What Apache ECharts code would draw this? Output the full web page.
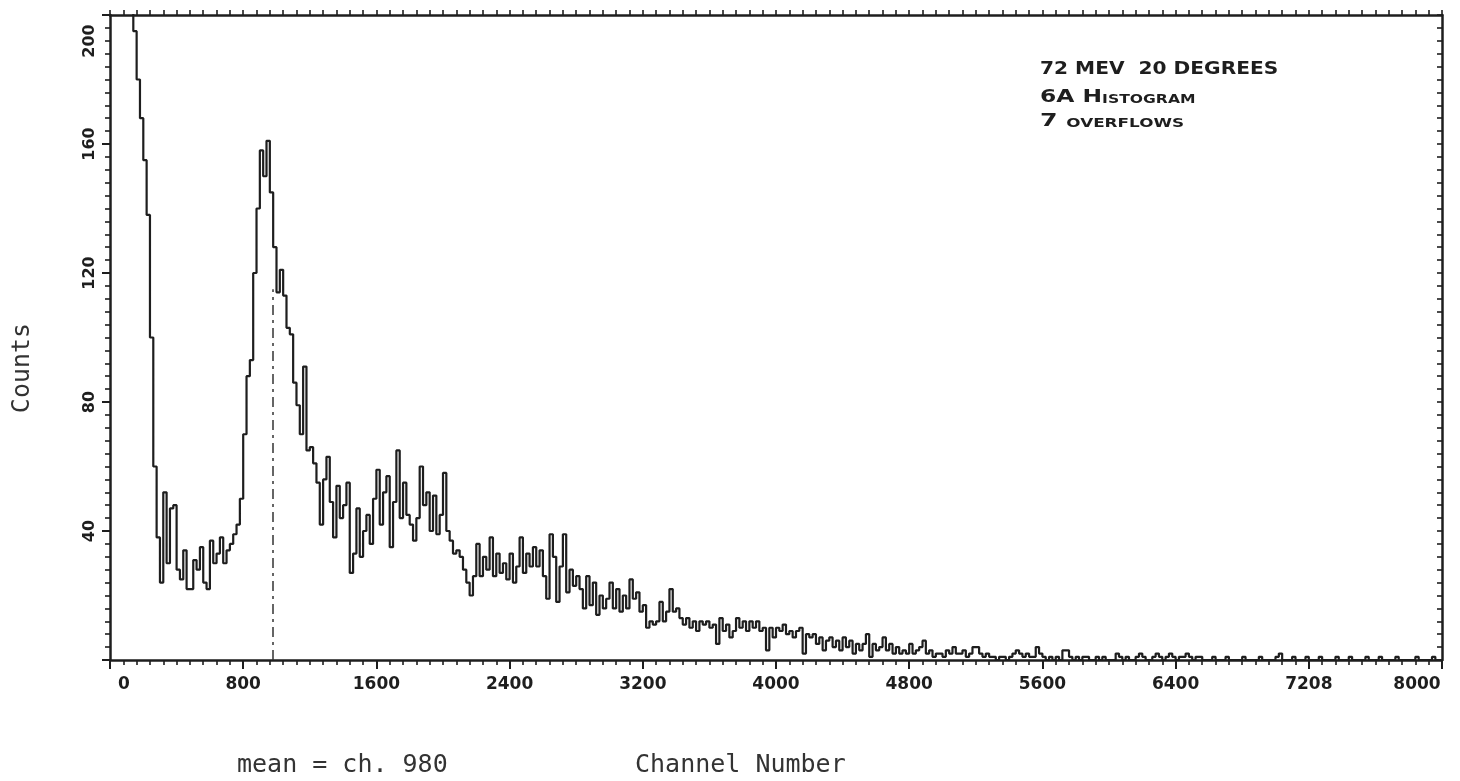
<!DOCTYPE html>
<html>
<head>
<meta charset="utf-8">
<script src="https://cdn.jsdelivr.net/npm/echarts@6/dist/echarts.min.js"></script>
<style>
  html, body { margin: 0; padding: 0; background: #ffffff; }
  #chart { width: 1460px; height: 781px; }
</style>
</head>
<body>
<div id="chart"></div>
<script>
// Histogram: 20-channel bins, counts
const binWidth = 20;
const counts0to1000 = [205,205,205,205,205,205,205,195,180,168, 155,138,100,60,38,24,52,30,47,48, 28,25,34,22,22,31,28,35,24,22, 37,30,33,38,30,34,36,39,42,50, 70,88,93,120,140,158,150,161,145,128];
const counts1000to2000 = [114,121,113,103,101,86,79,70,91,65, 66,61,55,42,56,63,49,38,54,44, 48,55,27,33,47,32,40,45,36,50, 59,42,52,57,35,49,65,44,55,45, 42,37,44,60,48,52,40,51,39,45];
const counts2000to3000 = [58,40,37,33,34,32,28,24,20,26, 36,26,32,28,38,26,33,27,30,25, 33,24,29,38,27,33,29,35,29,34, 26,19,39,32,18,29,39,21,28,23, 26,22,16,26,17,24,14,20,16,19];
const counts3000to4000 = [24,16,22,15,20,16,25,19,21,15, 17,10,12,11,12,18,12,15,22,15, 16,13,11,13,10,12,9,12,11,12, 10,11,5,13,9,11,7,9,13,10, 12,9,12,10,12,9,10,3,10,7];
const counts4000to5000 = [10,9,11,8,9,7,9,10,2,8, 7,8,5,7,3,6,7,4,6,3, 7,4,6,2,5,3,5,8,1,5, 3,4,7,3,5,2,4,2,3,2, 5,2,3,4,6,2,3,1,2,2];
const counts5000to6000 = [1,3,2,4,2,2,3,1,2,4, 4,2,1,2,1,1,0,1,1,0, 1,2,3,2,1,2,1,1,4,2, 1,0,1,0,1,0,3,3,1,0, 1,0,1,1,0,0,1,0,1,0];
const counts6000to7000 = [0,0,2,1,0,1,0,0,1,2, 1,0,0,1,2,1,0,1,2,1, 0,1,1,2,1,0,1,1,0,0, 0,1,0,0,0,1,0,0,0,0, 1,0,0,0,0,1,0,0,0,0];
const counts7000to8000 = [1,2,0,0,0,1,0,0,0,1, 0,0,0,1,0,0,0,0,1,0, 0,0,1,0,0,0,0,1,0,0, 0,1,0,0,0,0,1,0,0,0, 0,0,1,0,0,0,0,1,0,0];

const meanChannel = 980;
const meanLineTop = 115;

const xTickLabels = ['0','800','1600','2400','3200','4000','4800','5600','6400','7208','8000'];
const yTickLabels = ['','40','80','120','160','200'];

const annotationLines = ['72 MEV  20 DEGREES', '6A H', 'ISTOGRAM', '7 ', 'OVERFLOWS'];

const allCounts = [].concat(counts0to1000, counts1000to2000, counts2000to3000, counts3000to4000,
  counts4000to5000, counts5000to6000, counts6000to7000, counts7000to8000);
const seriesData = allCounts.map((c, i) => [i * binWidth, c]);
seriesData.push([allCounts.length * binWidth, allCounts[allCounts.length - 1]]);

const ink = '#1e1e1e';
const labelFont = { fontFamily: 'DejaVu Sans', fontWeight: 'bold', color: ink };

const chart = echarts.init(document.getElementById('chart'), null, { renderer: 'canvas' });
chart.setOption({
  animation: false,
  backgroundColor: '#ffffff',
  grid: { left: 110, right: 18, top: 15, bottom: 121, containLabel: false },
  xAxis: [
    {
      type: 'value', position: 'bottom', min: 0, max: 8000, interval: 800,
      axisLine: { show: true, onZero: false, lineStyle: { color: ink, width: 2.5 } },
      axisTick: { show: true, length: 9, lineStyle: { color: ink, width: 2 } },
      minorTick: { show: true, splitNumber: 10, length: 5, lineStyle: { color: ink, width: 1.6 } },
      splitLine: { show: false },
      axisLabel: Object.assign({
        fontSize: 17, margin: 16,
        formatter: function (v) {
          const i = Math.round(v / 800);
          const t = xTickLabels[i];
          if (i === 0) return '{first|' + t + '}';
          if (i === xTickLabels.length - 1) return '{last|' + t + '}';
          return t;
        },
        rich: {
          first: Object.assign({ fontSize: 17, padding: [0, 0, 0, 28] }, labelFont),
          last: Object.assign({ fontSize: 17, padding: [0, 50, 0, 0] }, labelFont)
        }
      }, labelFont)
    },
    {
      type: 'value', position: 'top', min: 0, max: 8000, interval: 80,
      axisLine: { show: true, onZero: false, lineStyle: { color: ink, width: 2.5 } },
      axisTick: { show: true, length: 5, lineStyle: { color: ink, width: 1.6 } },
      axisLabel: { show: false },
      splitLine: { show: false }
    }
  ],
  yAxis: [
    {
      type: 'value', position: 'left', min: 0, max: 200, interval: 40,
      axisLine: { show: true, onZero: false, lineStyle: { color: ink, width: 2.5 } },
      axisTick: { show: true, length: 8, lineStyle: { color: ink, width: 2 } },
      minorTick: { show: true, splitNumber: 10, length: 5, lineStyle: { color: ink, width: 1.6 } },
      splitLine: { show: false },
      axisLabel: Object.assign({
        fontSize: 16, rotate: 90, margin: 12,
        formatter: function (v) {
          const t = yTickLabels[Math.round(v / 40)];
          if (v === 200) return '{top|' + t + '}';
          return t;
        },
        rich: {
          top: Object.assign({ fontSize: 16, padding: [0, 52, 0, 0] }, labelFont)
        }
      }, labelFont)
    },
    {
      type: 'value', position: 'right', min: 0, max: 200, interval: 4,
      axisLine: { show: true, onZero: false, lineStyle: { color: ink, width: 2.5 } },
      axisTick: { show: true, inside: true, length: 5, lineStyle: { color: ink, width: 1.6 } },
      axisLabel: { show: false },
      splitLine: { show: false }
    }
  ],
  series: [
    {
      type: 'line', xAxisIndex: 0, yAxisIndex: 0, step: 'end',
      showSymbol: false, clip: true, silent: true,
      lineStyle: { color: ink, width: 2.2 },
      data: seriesData,
      markLine: {
        silent: true, symbol: 'none', label: { show: false },
        lineStyle: { color: '#333', width: 1.5, type: [10, 5, 3, 5] },
        data: [[{ coord: [meanChannel, 0] }, { coord: [meanChannel, meanLineTop] }]]
      }
    }
  ],
  graphic: [
    {
      type: 'text', x: 22, y: 368, rotation: Math.PI / 2,
      style: { text: 'Counts', font: '25px "DejaVu Sans Mono"', fill: '#333', textAlign: 'center', textVerticalAlign: 'middle' }
    },
    {
      type: 'text', x: 237, y: 765,
      style: { text: 'mean = ch. ' + meanChannel, font: '25px "DejaVu Sans Mono"', fill: '#333', textAlign: 'left', textVerticalAlign: 'middle' }
    },
    {
      type: 'text', x: 635, y: 765,
      style: { text: 'Channel Number', font: '25px "DejaVu Sans Mono"', fill: '#333', textAlign: 'left', textVerticalAlign: 'middle' }
    },
    {
      type: 'text', x: 1040, y: 69, scaleX: 1.12,
      style: { text: annotationLines[0], font: 'bold 18px "DejaVu Sans"', fill: ink, textAlign: 'left', textVerticalAlign: 'middle' }
    },
    {
      type: 'text', x: 1040, y: 97, scaleX: 1.3,
      style: {
        text: '{b|' + annotationLines[1] + '}{s|' + annotationLines[2] + '}',
        textAlign: 'left', textVerticalAlign: 'middle',
        rich: {
          b: { font: 'bold 18px "DejaVu Sans"', fill: ink, verticalAlign: 'bottom' },
          s: { font: 'bold 12px "DejaVu Sans"', fill: ink, verticalAlign: 'bottom' }
        }
      }
    },
    {
      type: 'text', x: 1040, y: 121, scaleX: 1.4,
      style: {
        text: '{b|' + annotationLines[3] + '}{s|' + annotationLines[4] + '}',
        textAlign: 'left', textVerticalAlign: 'middle',
        rich: {
          b: { font: 'bold 18px "DejaVu Sans"', fill: ink, verticalAlign: 'bottom' },
          s: { font: 'bold 12px "DejaVu Sans"', fill: ink, verticalAlign: 'bottom' }
        }
      }
    }
  ]
});
</script>
</body>
</html>
